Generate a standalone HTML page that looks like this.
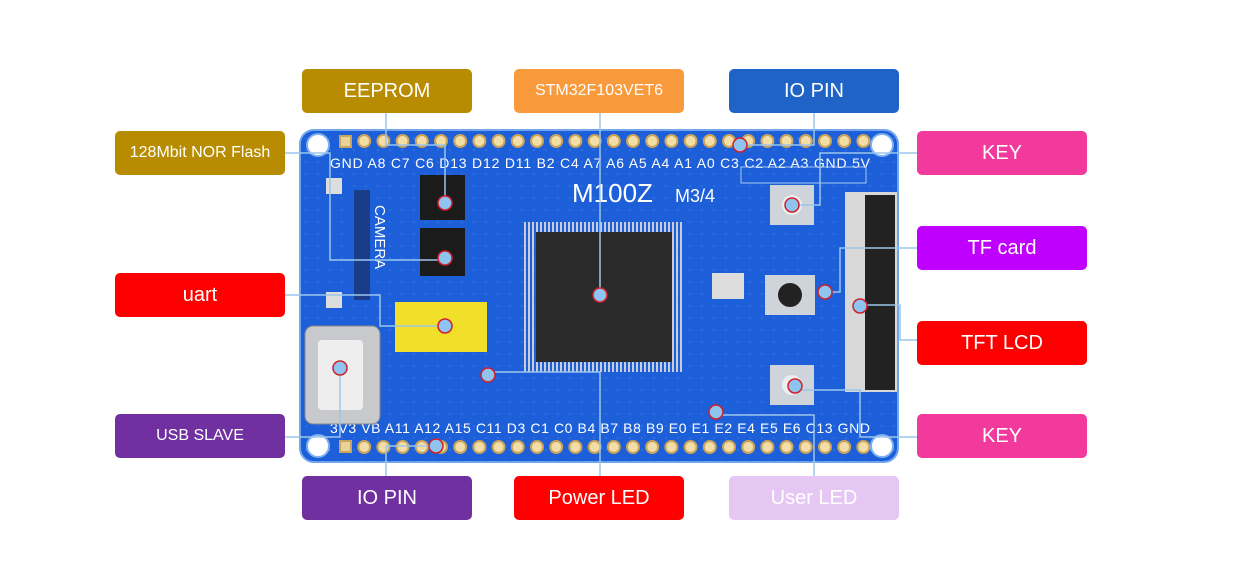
<!DOCTYPE html>
<html><head><meta charset="utf-8"><style>
body{margin:0;background:#fff;width:1233px;height:582px;overflow:hidden;font-family:"Liberation Sans",sans-serif}
.b{position:absolute;width:170px;height:44px;border-radius:5px;color:#fff;display:flex;align-items:center;justify-content:center;font-size:20px}
.s{font-size:16px}
</style></head><body>
<svg width="1233" height="582" style="position:absolute;left:0;top:0">
<defs><pattern id="dots" width="12" height="12" patternUnits="userSpaceOnUse"><circle cx="6" cy="6" r="0.8" fill="#3f80e8"/></pattern>
<pattern id="cp" width="4" height="4" patternUnits="userSpaceOnUse"><rect width="2" height="4" fill="#c8ccd4"/></pattern></defs>
<rect x="300" y="130" width="598" height="332" rx="14" fill="#1c5fd8" stroke="#6fa6ee" stroke-width="2"/>
<rect x="300" y="130" width="598" height="332" rx="14" fill="url(#dots)"/>
<g fill="#f0d9a0" stroke="#c8a55a" stroke-width="2">
<rect x="340" y="136" width="11" height="11" fill="#e8d29a"/>
<rect x="340" y="441" width="11" height="11" fill="#e8d29a"/>
</g>
<g id="pins" fill="#f3dea8" stroke="#c9a35a" stroke-width="2"></g>
<circle cx="318" cy="145" r="11" fill="#fff" stroke="#7eb0f0" stroke-width="2"/>
<circle cx="882" cy="145" r="11" fill="#fff" stroke="#7eb0f0" stroke-width="2"/>
<circle cx="318" cy="446" r="11" fill="#fff" stroke="#7eb0f0" stroke-width="2"/>
<circle cx="882" cy="446" r="11" fill="#fff" stroke="#7eb0f0" stroke-width="2"/>
<text x="330" y="168" font-size="14" fill="#fff" textLength="540" font-family="Liberation Sans">GND A8 C7 C6 D13 D12 D11 B2 C4 A7 A6 A5 A4 A1 A0 C3 C2 A2 A3 GND 5V</text>
<text x="330" y="433" font-size="14" fill="#fff" textLength="540" font-family="Liberation Sans">3V3 VB A11 A12 A15 C11 D3 C1 C0 B4 B7 B8 B9 E0 E1 E2 E4 E5 E6 C13 GND</text>
<text x="572" y="202" font-size="26" fill="#fff">M100Z</text><text x="675" y="202" font-size="18" fill="#fff">M3/4</text>
<rect x="741" y="167" width="125" height="16" fill="none" stroke="#aac8f0"/>
<rect x="354" y="190" width="16" height="110" fill="#1a3d8a"/>
<text x="375" y="205" font-size="15" fill="#fff" transform="rotate(90 375 205)">CAMERA</text>
<rect x="326" y="178" width="16" height="16" fill="#ddd"/>
<rect x="326" y="292" width="16" height="16" fill="#ddd"/>
<rect x="420" y="175" width="45" height="45" fill="#1b1b1b"/>
<rect x="420" y="228" width="45" height="48" fill="#1b1b1b"/>
<rect x="524" y="222" width="160" height="150" fill="url(#cp)"/>
<rect x="536" y="232" width="136" height="130" fill="#2a2a2a"/>
<rect x="395" y="302" width="92" height="50" fill="#f2df2a"/>
<rect x="305" y="326" width="75" height="98" rx="8" fill="#c7c9cc" stroke="#888"/>
<rect x="318" y="340" width="45" height="70" rx="4" fill="#eeeeee"/>
<rect x="770" y="185" width="44" height="40" fill="#cfd3da"/><circle cx="792" cy="205" r="10" fill="#eee"/>
<rect x="765" y="275" width="50" height="40" fill="#cfd3da"/><circle cx="790" cy="295" r="12" fill="#222"/>
<rect x="770" y="365" width="44" height="40" fill="#cfd3da"/><circle cx="792" cy="385" r="10" fill="#eee"/>
<rect x="712" y="273" width="32" height="26" fill="#ddd"/>
<rect x="845" y="192" width="52" height="200" fill="#d8d8d8"/>
<rect x="865" y="195" width="30" height="195" fill="#222"/>
<g stroke="#9cc6ea" stroke-width="1.5" fill="none">
<polyline points="386,113 386,145 445,145 445,203"/>
<polyline points="285,153 330,153 330,260 445,260"/>
<line x1="600" y1="113" x2="600" y2="295"/>
<polyline points="814,113 814,145 740,145"/>
<polyline points="917,153 820,153 820,205 792,205"/>
<polyline points="285,295 380,295 380,326 445,326"/>
<polyline points="917,248 840,248 840,292 825,292"/>
<polyline points="917,340 900,340 900,305 860,305"/>
<polyline points="285,437 340,437 340,368"/>
<polyline points="917,437 860,437 860,390 795,390"/>
<polyline points="386,476 386,446 436,446"/>
<polyline points="600,476 600,372 490,372"/>
<polyline points="814,476 814,415 716,415"/>
</g>
<g fill="#8fc4f0" stroke="#d0202a" stroke-width="1.5">
<circle cx="445" cy="203" r="7"/><circle cx="445" cy="258" r="7"/><circle cx="600" cy="295" r="7"/>
<circle cx="740" cy="145" r="7"/><circle cx="792" cy="205" r="7"/><circle cx="445" cy="326" r="7"/>
<circle cx="825" cy="292" r="7"/><circle cx="860" cy="306" r="7"/><circle cx="340" cy="368" r="7"/>
<circle cx="795" cy="386" r="7"/><circle cx="436" cy="446" r="7"/><circle cx="488" cy="375" r="7"/>
<circle cx="716" cy="412" r="7"/>
</g>
</svg>
<script>
var g=document.getElementById('pins'),s='';
for(var i=1;i<29;i++){var x=345+i*19.2;s+='<circle cx="'+x+'" cy="141" r="6"/><circle cx="'+x+'" cy="447" r="6"/>';}
g.innerHTML=s;
</script>
<div class="b" style="left:302px;top:69px;background:#b88c00">EEPROM</div>
<div class="b s" style="left:514px;top:69px;background:#f99a3c">STM32F103VET6</div>
<div class="b" style="left:729px;top:69px;background:#1f63c6">IO PIN</div>
<div class="b s" style="left:115px;top:131px;background:#b88c00">128Mbit NOR Flash</div>
<div class="b" style="left:917px;top:131px;background:#f23a9d">KEY</div>
<div class="b" style="left:917px;top:226px;background:#c000ff">TF card</div>
<div class="b" style="left:115px;top:273px;background:#ff0000">uart</div>
<div class="b" style="left:917px;top:321px;background:#ff0000">TFT LCD</div>
<div class="b s" style="left:115px;top:414px;background:#7030a0">USB SLAVE</div>
<div class="b" style="left:917px;top:414px;background:#f23a9d">KEY</div>
<div class="b" style="left:302px;top:476px;background:#7030a0">IO PIN</div>
<div class="b" style="left:514px;top:476px;background:#ff0000">Power LED</div>
<div class="b" style="left:729px;top:476px;background:#e6c6f2">User LED</div>
</body></html>
